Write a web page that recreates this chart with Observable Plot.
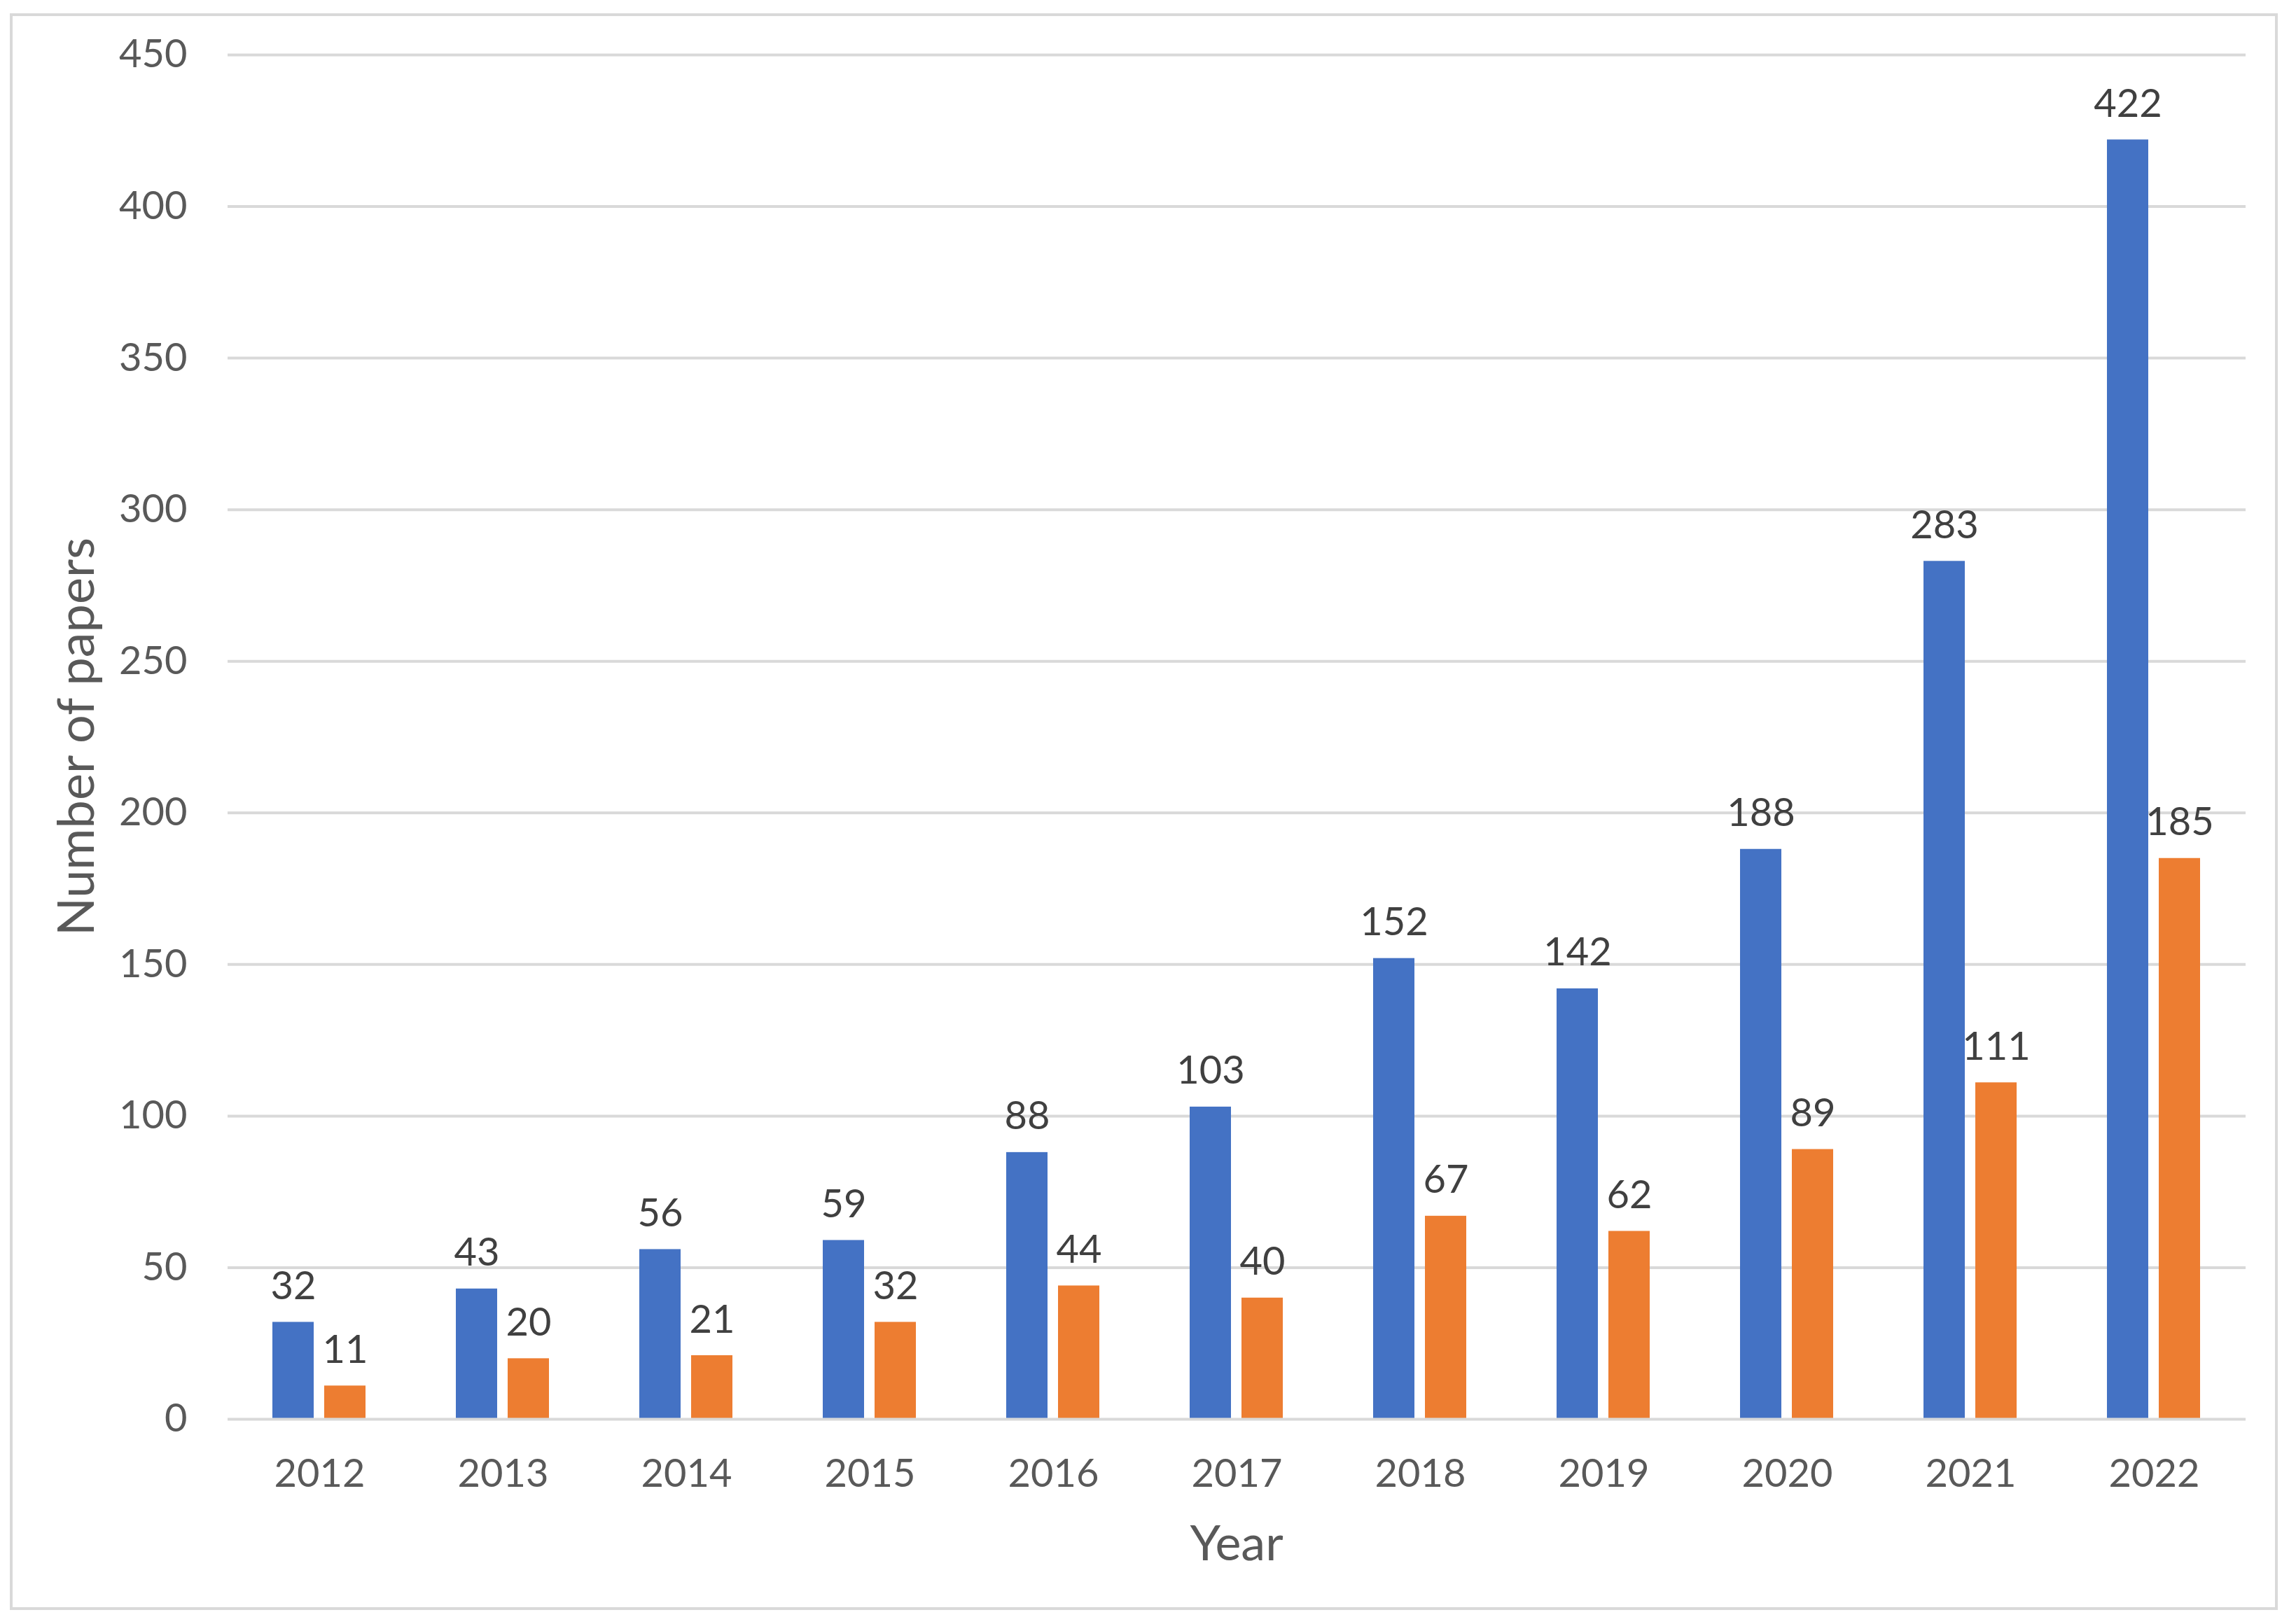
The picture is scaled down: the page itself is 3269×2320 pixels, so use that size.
<!DOCTYPE html>
<html><head><meta charset="utf-8">
<script src="https://cdn.jsdelivr.net/npm/d3@7"></script>
<script src="https://cdn.jsdelivr.net/npm/@observablehq/plot@0.6"></script>
<style>
html,body{margin:0;padding:0;background:#fff;}
#frame{position:absolute;left:14px;top:19px;width:3239px;height:2281px;box-sizing:border-box;border:4px solid #d9d9d9;background:#fff;}
#frame svg{display:block;}
</style></head><body><div id="frame"></div>
<script>
const years = ["2012","2013","2014","2015","2016","2017","2018","2019","2020","2021","2022"];
const seriesA = [32, 43, 56, 59, 88, 103, 152, 142, 188, 283, 422];
const seriesB = [11, 20, 21, 32, 44, 40, 67, 62, 89, 111, 185];
const seriesNames = ["Series 1", "Series 2"];
const seriesColors = ["#4472C4", "#ED7D31"];
const yTicks = [0, 50, 100, 150, 200, 250, 300, 350, 400, 450];
const xTitle = "Year";
const yTitle = "Number of papers";

const rows = years.flatMap((year, i) => [
  {year, series: seriesNames[0], value: seriesA[i]},
  {year, series: seriesNames[1], value: seriesB[i]}
]);

const W = 3231, H = 2273, mL = 305, mR = 40, mT = 55, mB = 269;

const chart = Plot.plot({
  width: W, height: H,
  marginLeft: mL, marginRight: mR, marginTop: mT, marginBottom: mB,
  style: {fontFamily: "Lato, sans-serif", fontSize: "56px", color: "#595959", background: "#fff", overflow: "visible"},
  fx: {domain: years, padding: 0, tickSize: 0, tickPadding: 57, label: null},
  x: {domain: seriesNames, axis: null, paddingInner: 0.2, paddingOuter: 0.86},
  y: {domain: [0, 450], ticks: yTicks, tickSize: 0, tickPadding: 58, label: null},
  color: {domain: seriesNames, range: seriesColors},
  marks: [
    Plot.ruleY(yTicks.filter(t => t > 0), {stroke: "#d9d9d9", strokeWidth: 4}),
    Plot.barY(rows, {fx: "year", x: "series", y: "value", fill: "series"}),
    Plot.ruleY([0], {stroke: "#d9d9d9", strokeWidth: 4}),
    Plot.text(rows, {fx: "year", x: "series", y: "value", text: d => String(d.value), lineAnchor: "bottom", dy: -33, fill: "#404040", fontSize: 56})
  ]
});
document.getElementById("frame").appendChild(chart);

const svg = d3.select(chart);
svg.append("text")
  .attr("transform", `translate(116,${(mT + H - mB) / 2}) rotate(-90)`)
  .attr("text-anchor", "middle")
  .attr("fill", "#595959")
  .style("font-family", "Lato, sans-serif")
  .style("font-size", "72px")
  .text(yTitle);
svg.append("text")
  .attr("x", (mL + W - mR) / 2)
  .attr("y", 2206)
  .attr("text-anchor", "middle")
  .attr("fill", "#595959")
  .style("font-family", "Lato, sans-serif")
  .style("font-size", "70px")
  .text(xTitle);
</script></body></html>
